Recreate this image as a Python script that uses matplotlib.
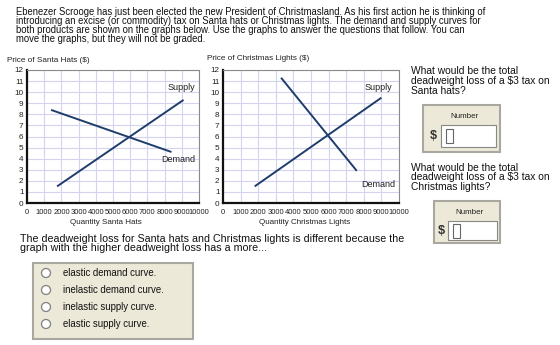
import matplotlib
matplotlib.use("Agg")
import matplotlib.pyplot as plt
from matplotlib.patches import Rectangle, Circle

plt.rcParams['font.family'] = ['Liberation Sans', 'DejaVu Sans']

W, H = 560, 345

# ---- data ----
x_ticks = [0, 1000, 2000, 3000, 4000, 5000, 6000, 7000, 8000, 9000, 10000]
y_ticks = [0, 1, 2, 3, 4, 5, 6, 7, 8, 9, 10, 11, 12]

hats_supply_q = [1750, 9100]
hats_supply_p = [1.5, 9.3]
hats_demand_q = [1400, 8400]
hats_demand_p = [8.4, 4.6]

lights_supply_q = [1800, 9000]
lights_supply_p = [1.5, 9.5]
lights_demand_q = [3300, 7600]
lights_demand_p = [11.3, 2.9]

intro_lines = ["Ebenezer Scrooge has just been elected the new President of Christmasland. As his first action he is thinking of",
               "introducing an excise (or commodity) tax on Santa hats or Christmas lights. The demand and supply curves for",
               "both products are shown on the graphs below. Use the graphs to answer the questions that follow. You can",
               "move the graphs, but they will not be graded."]
q1_lines = ["What would be the total", "deadweight loss of a $3 tax on", "Santa hats?"]
q2_lines = ["What would be the total", "deadweight loss of a $3 tax on", "Christmas lights?"]
q3_lines = ["The deadweight loss for Santa hats and Christmas lights is different because the",
            "graph with the higher deadweight loss has a more..."]
options = ["elastic demand curve.", "inelastic demand curve.",
           "inelastic supply curve.", "elastic supply curve."]

LINE = "#1f3d6b"
GRID = "#d4d4ee"
BEIGE = "#ece9d8"
BORDER = "#a8a8a0"
TXT = "#111111"
TXT2 = "#222222"

fig = plt.figure(figsize=(W / 100, H / 100), dpi=100)

def rect(x0, y0, x1, y1):
    return [x0 / W, 1 - y1 / H, (x1 - x0) / W, (y1 - y0) / H]

def make_chart(box, sq, sp, dq, dp, sup_pos, dem_pos):
    ax = fig.add_axes(rect(*box))
    ax.set_xlim(0, 10000)
    ax.set_ylim(0, 12)
    ax.set_xticks(x_ticks)
    ax.set_yticks(y_ticks)
    ax.set_xticklabels([str(v) for v in x_ticks], fontsize=5.5, color=TXT2)
    ax.set_yticklabels([str(v) for v in y_ticks], fontsize=5.9, color=TXT2)
    ax.tick_params(axis='x', length=0, pad=4.5)
    ax.tick_params(axis='y', length=0, pad=2.5)
    ax.grid(True, color=GRID, lw=0.8)
    ax.set_axisbelow(True)
    for s in ['top', 'right']:
        ax.spines[s].set_color("#8a8a8a")
        ax.spines[s].set_linewidth(0.8)
    for s in ['left', 'bottom']:
        ax.spines[s].set_color("#111111")
        ax.spines[s].set_linewidth(1.6)
    ax.plot(sq, sp, color=LINE, lw=1.4, solid_capstyle='butt')
    ax.plot(dq, dp, color=LINE, lw=1.4, solid_capstyle='butt')
    ax.text(sup_pos[0], sup_pos[1], "Supply", fontsize=6.5, ha='center', va='center', color=TXT2)
    ax.text(dem_pos[0], dem_pos[1], "Demand", fontsize=6.5, ha='center', va='center', color=TXT2)
    return ax

make_chart((27, 70, 199, 203), hats_supply_q, hats_supply_p, hats_demand_q, hats_demand_p,
           (9000, 10.45), (8800, 3.9))
make_chart((223, 70, 399, 203), lights_supply_q, lights_supply_p, lights_demand_q, lights_demand_p,
           (8800, 10.4), (8800, 1.7))

ov = fig.add_axes([0, 0, 1, 1], zorder=-1)
ov.set_xlim(0, W)
ov.set_ylim(H, 0)
ov.axis('off')

def lines(x, ys, texts, size):
    for y, t in zip(ys, texts):
        ov.text(x, y, t, fontsize=size, va='center', ha='left', color=TXT)

lines(16, [11.7, 21, 30.2, 39.4], intro_lines, 6.85)
ov.text(7, 61, "Price of Santa Hats ($)", fontsize=5.9, va='center', ha='left', color=TXT2)
ov.text(207, 59, "Price of Christmas Lights ($)", fontsize=5.9, va='center', ha='left', color=TXT2)
ov.text(106, 222, "Quantity Santa Hats", fontsize=5.8, va='center', ha='center', color=TXT2)
ov.text(305, 222, "Quantity Christmas Lights", fontsize=5.8, va='center', ha='center', color=TXT2)

lines(411, [71.5, 81, 90.5], q1_lines, 7.4)
lines(411, [168.3, 177.5, 186.8], q2_lines, 7.4)

def number_box(x0, y0, x1, y1, ix0, iy0, ix1, iy1, dollar_x):
    ov.add_patch(Rectangle((x0, y0), x1 - x0, y1 - y0, facecolor=BEIGE, edgecolor=BORDER, lw=1.5))
    ov.text((x0 + x1) / 2 + 3, y0 + 11, "Number", fontsize=5.8, ha='center', va='center', color=TXT2)
    ov.add_patch(Rectangle((ix0, iy0), ix1 - ix0, iy1 - iy0, facecolor="white", edgecolor="#888888", lw=0.8))
    ov.text(dollar_x, (iy0 + iy1) / 2, "$", fontsize=9, fontweight='bold', ha='center', va='center', color="#333333")
    cy = (iy0 + iy1) / 2
    ov.add_patch(Rectangle((ix0 + 5, cy - 7), 7, 14, facecolor="white", edgecolor="#666666", lw=0.8))

number_box(423, 105, 500, 152, 441, 125, 496, 147, 433.5)
number_box(434, 201, 500, 243, 448, 221, 497, 240, 441.5)

lines(20, [239.5, 248.3], q3_lines, 7.65)

ov.add_patch(Rectangle((33, 263), 160, 76, facecolor=BEIGE, edgecolor=BORDER, lw=1.5))
for i, opt in enumerate(options):
    y = 273 + i * 17
    ov.add_patch(Circle((46, y), 4.5, facecolor="white", edgecolor="#808080", lw=0.9))
    ov.text(63, y, opt, fontsize=6.9, va='center', ha='left', color=TXT)

fig.savefig("out.png", dpi=100)
